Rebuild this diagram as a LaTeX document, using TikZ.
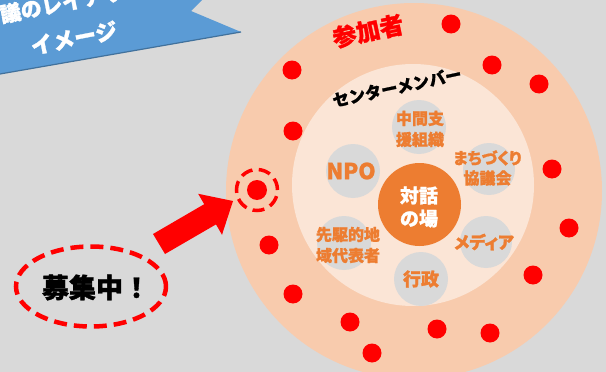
\documentclass[tikz,border=0pt]{standalone}
\usepackage{fontspec}
\usetikzlibrary{shapes.geometric}
\newfontfamily\jp{Noto Sans CJK JP}[BoldFeatures={FakeBold=1.2}]
\newfontfamily\jpp{Noto Sans CJK JP}[RawFeature=+palt, BoldFeatures={FakeBold=1.2}]
\definecolor{bg}{HTML}{D9D9D9}
\definecolor{peach}{HTML}{F8CBAD}
\definecolor{light}{HTML}{FBE5D6}
\definecolor{orng}{HTML}{ED7D31}
\definecolor{blu}{HTML}{5B9BD5}
\definecolor{bludark}{HTML}{41719C}
\definecolor{rd}{HTML}{FF0000}
\tikzset{
  member/.style={circle, fill=bg, minimum size=54pt, inner sep=0pt},
  mlabel/.style={text=orng, font=\jp\bfseries\fontsize{16}{21}\selectfont, align=center, inner sep=0pt},
  dot/.style={circle, fill=rd, minimum size=19pt, inner sep=0pt},
}
\begin{document}
\begin{tikzpicture}[x=1pt,y=-1pt]
\useasboundingbox (0,0) rectangle (606,372);
\clip (0,0) rectangle (606,372);
\fill[bg] (0,0) rectangle (606,372);
% rings
\node[circle, fill=peach, minimum size=376pt, inner sep=0pt] (outer) at (414,191) {};
\node[circle, fill=light, minimum size=242pt, inner sep=0pt] (inner) at (413,185) {};
% members
\node[member] (m1) at (419,127) {};
\node[member] (m2) at (353,171) {};
\node[member, minimum size=52pt] (m3) at (489,169) {};
\node[member, minimum size=52pt] (m4) at (486,242) {};
\node[member] (m5) at (421,279) {};
\node[member] (m6) at (344,243) {};
\node[circle, fill=orng, minimum size=83pt, inner sep=0pt] (core) at (419.5,204.5) {};
\node[text=white, font=\jp\bfseries\fontsize{19}{23}\selectfont, align=center, inner sep=0pt] (coret) at (419,207) {対話\\の場};
\node[mlabel] (t1) at (420,129) {中間支\\援組織};
\node[mlabel, font=\jp\bfseries\fontsize{22}{24}\selectfont] (t2) at (351,171) {NPO};
\node[mlabel, font=\jpp\bfseries\fontsize{16}{20}\selectfont] (t3) at (487.5,168) {まちづくり\\協議会};
\node[mlabel, font=\jpp\bfseries\fontsize{17}{20}\selectfont] (t4) at (484,242) {メディア};
\node[mlabel, font=\jp\bfseries\fontsize{18}{21}\selectfont] (t5) at (421,279) {行政};
\node[mlabel] (t6) at (348,245) {先駆的地\\域代表者};
% ring labels
\node[text=rd, font=\jp\bfseries\fontsize{24}{26}\selectfont, rotate=12, inner sep=0pt] (part) at (368,31) {参加者};
\node[text=black, font=\jp\bfseries\fontsize{16.5}{20}\selectfont, rotate=12, inner sep=0pt] (center) at (397,87) {センターメンバー};
% participants
\foreach \p [count=\i] in {(292,70),(451,24),(492,65),(539,84),(293,131),(269,245),(293,294),(350,322),(372,353),(437,329),(490,333),(533,275),(569,228),(552,169)}
  \node[dot] (d\i) at \p {};
\node[dot, minimum size=20pt] (new) at (257,190) {};
\node[circle, draw=rd, line width=3.5pt, dash pattern=on 12pt off 6.4pt, minimum size=41pt, inner sep=0pt] (ring) at (257,190) {};
% recruiting
\node[ellipse, draw=rd, line width=4.5pt, dash pattern=on 13pt off 7pt, minimum width=150pt, minimum height=80pt, inner sep=0pt] (rec) at (91,286.5) {};
\node[font=\jp\bfseries\fontsize{27}{30}\selectfont, inner sep=0pt] (rect) at (96,287.5) {募集中！};
% big arrow
\fill[rd] (153,234) -- (204.2,204.2) -- (198.2,193.8) -- (233,201) -- (222,234.8) -- (216,224.4) -- (165,254) -- cycle;
% banner
\fill[blu] (0,0) -- (202,0) -- (191,11) -- (241,32) -- (0,74) -- cycle;
\draw[bludark, line width=1.2pt] (0,74) -- (241,32);
\node[text=white, font=\jp\bfseries\fontsize{21}{24}\selectfont, rotate=11, anchor=west, inner sep=0pt] (ban1) at (0,15) {議のレイアウト};
\node[text=white, font=\jp\bfseries\fontsize{22}{24}\selectfont, rotate=11, inner sep=0pt] (ban2) at (74,38) {イメージ};
\end{tikzpicture}
\end{document}
